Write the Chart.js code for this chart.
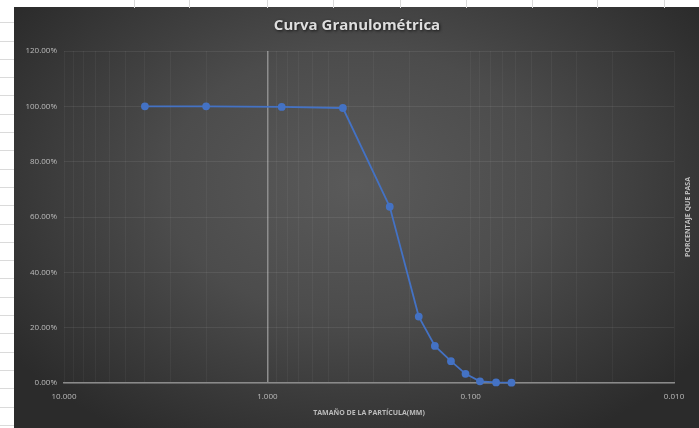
<!DOCTYPE html>
<html>
<head>
<meta charset="utf-8">
<script src="https://cdn.jsdelivr.net/npm/chart.js@4.4.1/dist/chart.umd.min.js"></script>
<style>
  html, body { margin: 0; padding: 0; width: 699px; height: 428px; overflow: hidden; background: #fff; }
  #sheet {
    position: absolute; left: 0; top: 0; width: 699px; height: 428px;
    background-image: repeating-linear-gradient(to bottom, transparent 0, transparent 17.3px, #dadada 17.3px, #dadada 18.3px);
    background-position: 0 5px;
  }
  .col { position: absolute; top: 0; width: 1px; height: 8px; background: #dadada; }
  #wrap {
    position: absolute; left: 14px; top: 7px; width: 685px; height: 421px;
    background: radial-gradient(ellipse 62% 70% at 50% 42%, #5a5a5a 0%, #4c4c4c 45%, #2b2b2b 100%);
  }
</style>
</head>
<body>
<div id="sheet"></div>
<div id="wrap"><canvas id="c" width="685" height="421"></canvas></div>
<script>
// datos de la curva (tamaño de tamiz en mm, % que pasa)
const sizes = [4.0, 2.0, 0.85, 0.425, 0.25, 0.18, 0.15, 0.125, 0.106, 0.09, 0.075, 0.063];
const passing = [100, 100, 99.8, 99.4, 63.7, 24.0, 13.4, 7.9, 3.3, 0.6, 0.2, 0.1];
const xMajorTicks = [10, 1, 0.1, 0.01];
const yTicks = [0, 20, 40, 60, 80, 100, 120];

// lineas de columnas de la hoja (solo decorado)
[134, 189, 267, 333, 400, 466, 532, 597, 664].forEach(x => {
  const d = document.createElement('div');
  d.className = 'col';
  d.style.left = x + 'px';
  document.body.appendChild(d);
});

const labelColor = '#bcbcbc';

// titulos dibujados a mano (sombra y eje Y a la derecha)
const titlesPlugin = {
  id: 'titles',
  afterDraw(chart) {
    const { ctx, chartArea } = chart;
    ctx.save();
    ctx.textAlign = 'center';
    ctx.textBaseline = 'middle';

    ctx.shadowColor = 'rgba(0,0,0,0.7)';
    ctx.shadowBlur = 3;
    ctx.shadowOffsetX = 1;
    ctx.shadowOffsetY = 1;
    ctx.fillStyle = '#dedede';
    ctx.font = 'bold 15px "Open Sans", sans-serif';
    ctx.fillText('Curva Granulométrica', 343, 19);

    ctx.shadowColor = 'transparent';
    ctx.fillStyle = labelColor;
    ctx.font = 'bold 7px "Open Sans", sans-serif';
    ctx.fillText('TAMAÑO DE LA PARTÍCULA(MM)', (chartArea.left + chartArea.right) / 2, 406);

    ctx.translate(674, (chartArea.top + chartArea.bottom) / 2);
    ctx.rotate(-Math.PI / 2);
    ctx.fillText('PORCENTAJE QUE PASA', 0, 0);
    ctx.restore();
  }
};

new Chart(document.getElementById('c').getContext('2d'), {
  type: 'line',
  data: {
    datasets: [{
      data: sizes.map((s, i) => ({ x: s, y: passing[i] })),
      borderColor: '#4472C4',
      backgroundColor: '#4472C4',
      borderWidth: 1.8,
      pointRadius: 3,
      pointBackgroundColor: '#4472C4',
      pointBorderColor: '#4472C4',
      tension: 0,
      clip: false
    }]
  },
  options: {
    animation: false,
    responsive: false,
    devicePixelRatio: 1,
    layout: { padding: { top: 44, right: 25, left: 0, bottom: 0 } },
    plugins: {
      legend: { display: false },
      tooltip: { enabled: false }
    },
    scales: {
      x: {
        type: 'logarithmic',
        reverse: true,
        min: 0.01,
        max: 10,
        afterBuildTicks: (s) => {
          const t = [];
          for (let e = -2; e < 1; e++) {
            for (let d = 1; d < 10; d++) t.push({ value: +(d * Math.pow(10, e)).toPrecision(3) });
          }
          t.push({ value: 10 });
          s.ticks = t;
        },
        afterFit: (s) => { s.height = 45; },
        ticks: {
          autoSkip: false,
          maxRotation: 0,
          padding: 9,
          color: labelColor,
          font: { size: 8, family: '"Open Sans", sans-serif' },
          callback: (v) => xMajorTicks.includes(v) ? v.toFixed(3) : ''
        },
        grid: {
          drawTicks: false,
          color: (c) => (c.tick && c.tick.value === 1) ? '#8e8e8e' : 'rgba(255,255,255,0.045)',
          lineWidth: (c) => (c.tick && c.tick.value === 1) ? 1.5 : 1
        },
        border: { color: '#8a8a8a', width: 1.5 }
      },
      y: {
        min: 0,
        max: 120,
        afterBuildTicks: (s) => { s.ticks = yTicks.map(v => ({ value: v })); },
        afterFit: (s) => { s.width = 50; },
        ticks: {
          padding: 7,
          color: labelColor,
          font: { size: 8, family: '"Open Sans", sans-serif' },
          callback: (v) => v.toFixed(2) + '%'
        },
        grid: { drawTicks: false, color: 'rgba(255,255,255,0.075)' },
        border: { display: false }
      }
    }
  },
  plugins: [titlesPlugin]
});
</script>
</body>
</html>
